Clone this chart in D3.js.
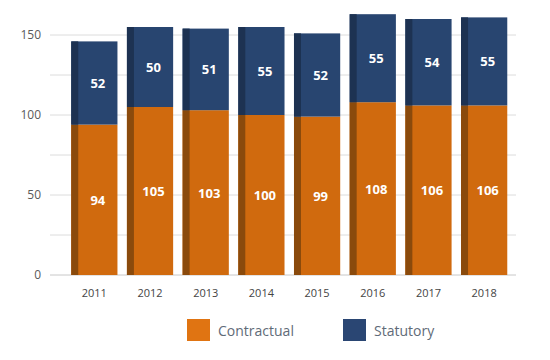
<!DOCTYPE html>
<html>
<head>
<meta charset="utf-8">
<script src="https://cdn.jsdelivr.net/npm/d3@7"></script>
<style>
  body { margin: 0; background: #fff; }
  text { font-family: "Open Sans", sans-serif; }
</style>
</head>
<body>
<svg width="550" height="360"></svg>
<script>
var svg = d3.select("svg");

var years = ["2011", "2012", "2013", "2014", "2015", "2016", "2017", "2018"];
var contractual = [94, 105, 103, 100, 99, 108, 106, 106];
var statutory = [52, 50, 51, 55, 52, 55, 54, 55];
var yTicks = [0, 50, 100, 150];
var gridTicks = [0, 25, 50, 75, 100, 125, 150];
var seriesNames = ["Contractual", "Statutory"];

var colors = { Contractual: "#D06A0E", Statutory: "#284570" };
var edgeColors = { Contractual: "#8A4A0C", Statutory: "#1D3252" };
var legendColors = { Contractual: "#E07412", Statutory: "#2A4673" };

var x = d3.scaleBand().domain(years).range([66.5, 512]).paddingInner(0.17).paddingOuter(0.085);
var y = d3.scaleLinear().domain([0, 150]).range([275, 35]);

// gridlines
svg.append("g")
  .selectAll("line")
  .data(gridTicks)
  .enter().append("line")
  .attr("x1", 50).attr("x2", 516)
  .attr("y1", d => y(d)).attr("y2", d => y(d))
  .attr("stroke", d => d === 0 ? "#c8c8c8" : "#dcdcdc")
  .attr("stroke-width", 1);

// y labels
svg.append("g")
  .selectAll("text")
  .data(yTicks)
  .enter().append("text")
  .attr("x", 41).attr("y", d => y(d) + 4)
  .attr("text-anchor", "end")
  .attr("font-size", 12)
  .attr("fill", "#5a5a5a")
  .text(d => d);

var stacked = years.map((yr, i) => ({
  year: yr,
  segs: [
    { name: "Contractual", v0: 0, v1: contractual[i], val: contractual[i] },
    { name: "Statutory", v0: contractual[i], v1: contractual[i] + statutory[i], val: statutory[i] }
  ]
}));

var bw = x.bandwidth();
var edge = Math.round(bw * 0.15);

var bar = svg.append("g").selectAll("g")
  .data(stacked)
  .enter().append("g")
  .attr("transform", d => "translate(" + x(d.year) + ",0)");

bar.each(function(d) {
  var g = d3.select(this);
  d.segs.forEach(s => {
    g.append("rect")
      .attr("x", 0).attr("width", bw)
      .attr("y", y(s.v1)).attr("height", y(s.v0) - y(s.v1))
      .attr("fill", colors[s.name]);
    g.append("rect")
      .attr("x", 0).attr("width", edge)
      .attr("y", y(s.v1)).attr("height", y(s.v0) - y(s.v1))
      .attr("fill", edgeColors[s.name]);
    g.append("text")
      .attr("x", edge + (bw - edge) / 2)
      .attr("y", (y(s.v0) + y(s.v1)) / 2 + 5)
      .attr("text-anchor", "middle")
      .attr("font-size", 13)
      .attr("font-weight", "bold")
      .attr("fill", "#fff")
      .text(s.val);
  });
});

// x labels
svg.append("g")
  .selectAll("text")
  .data(years)
  .enter().append("text")
  .attr("x", d => x(d) + bw / 2)
  .attr("y", 297)
  .attr("text-anchor", "middle")
  .attr("font-size", 11)
  .attr("fill", "#444")
  .text(d => d);

// legend
var legendX = [187, 343];
var legend = svg.append("g").selectAll("g")
  .data(seriesNames)
  .enter().append("g")
  .attr("transform", (d, i) => "translate(" + legendX[i] + ",319)");

legend.append("rect")
  .attr("width", 23).attr("height", 22)
  .attr("fill", d => legendColors[d]);

legend.append("text")
  .attr("x", 31).attr("y", 17)
  .attr("font-size", 14)
  .attr("fill", "#5f6b78")
  .text(d => d);
</script>
</body>
</html>
